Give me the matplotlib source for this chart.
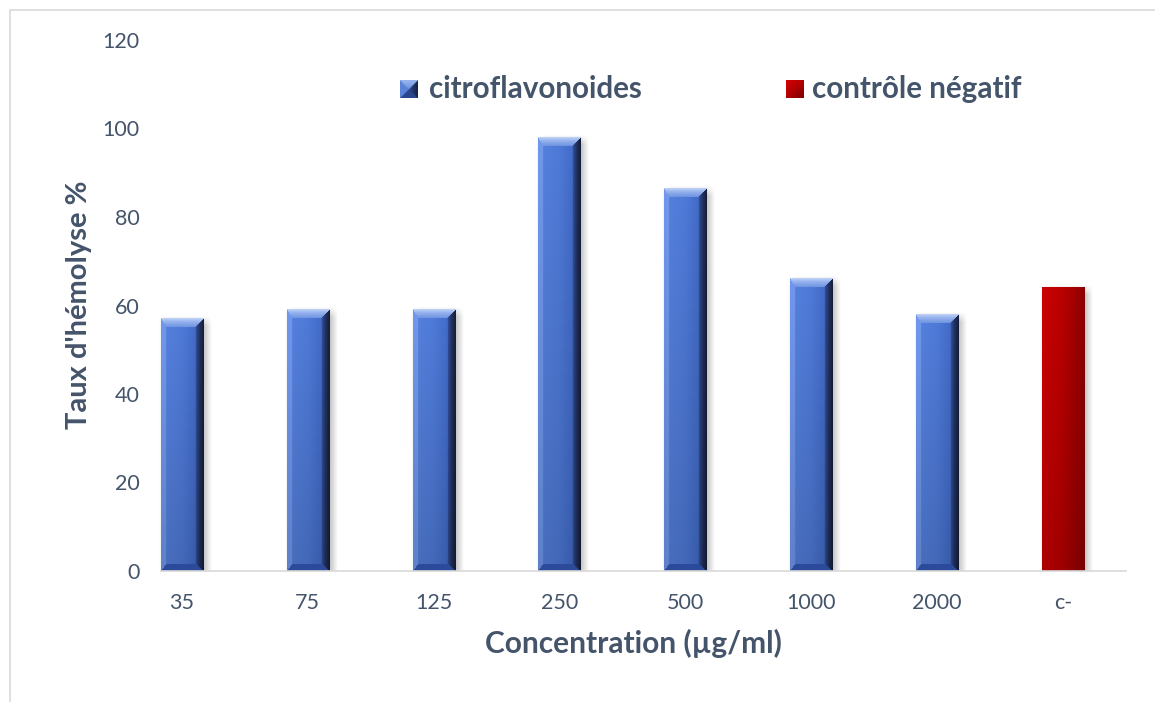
import numpy as np
import matplotlib
matplotlib.use("Agg")
import matplotlib.pyplot as plt
from matplotlib.patches import Rectangle
from matplotlib.colors import to_rgb

# ---- data ----
categories = ["35", "75", "125", "250", "500", "1000", "2000", "c-"]
citro_values = [57, 59, 59, 98, 86.5, 66, 58]
control_value = 64
series_names = ["citroflavonoides", "contrôle négatif"]
y_ticks = [0, 20, 40, 60, 80, 100, 120]

TEXT = "#44546A"
FONT = "Lato"

W_PX, H_PX = 1155, 702
DPI = 100
fig = plt.figure(figsize=(W_PX / DPI, H_PX / DPI), dpi=DPI)
fig.patch.set_facecolor("white")

# chart-area border (top and left edges visible)
fig.patches.append(Rectangle((10 / W_PX, -0.1), 1.2, (H_PX - 10) / H_PX + 0.1,
                             transform=fig.transFigure, fill=False,
                             edgecolor="#d9d9d9", linewidth=1.2))

ax_left, ax_right, ax_bot, ax_top = 119, 1126, 571, 40
ax = fig.add_axes([ax_left / W_PX, (H_PX - ax_bot) / H_PX,
                   (ax_right - ax_left) / W_PX, (ax_bot - ax_top) / H_PX])
ax.set_xlim(-0.5, len(categories) - 0.5)
ax.set_ylim(0, 120)

x = np.arange(len(categories))
bar_w = 0.335
bars_c = ax.bar(x[:len(citro_values)], citro_values, width=bar_w,
                color="#4a72c8", zorder=2)
bars_n = ax.bar(x[-1:], [control_value], width=bar_w, color="#b00000", zorder=2)


def lerp_profile(t, stops):
    pos = np.array([s[0] for s in stops])
    cols = np.array([to_rgb(s[1]) for s in stops])
    return np.stack([np.interp(t, pos, cols[:, k]) for k in range(3)], axis=-1)


def bevel_image(Wp, Hp, face_stops, top_stops, left_col, right_stops,
                bottom_col, bt, bs_l, bs_r, bb, vshade=(1.06, 0.9)):
    j = np.arange(Wp) + 0.5
    i = np.arange(Hp) + 0.5
    J, I = np.meshgrid(j, i)
    u = J / Wp
    v = I / Hp
    img = lerp_profile(u, face_stops)
    vs = vshade[0] + (vshade[1] - vshade[0]) * v
    img = np.clip(img * vs[..., None], 0, 1)
    dl, dr, dt, db = J / bs_l, (Wp - J) / bs_r, I / bt, (Hp - I) / bb
    dmin = np.minimum.reduce([dl, dr, dt, db])
    top = (dt == dmin) & (dt < 1)
    left = (dl == dmin) & (dl < 1) & ~top
    right = (dr == dmin) & (dr < 1) & ~top
    bottom = (db == dmin) & (db < 1) & ~left & ~right & ~top
    timg = lerp_profile(np.clip(dt, 0, 1), top_stops)
    img[top] = timg[top]
    img[left] = np.array(to_rgb(left_col)) * vs[left][:, None]
    rimg = lerp_profile(np.clip(dr, 0, 1), right_stops)
    img[right] = np.clip(rimg[right] * vs[right][:, None], 0, 1)
    img[bottom] = to_rgb(bottom_col)
    return img


def shadow_image(Wp, Hp, margin, off, soft, strength):
    j = np.arange(Wp + 2 * margin) + 0.5 - margin
    i = np.arange(Hp + 2 * margin) + 0.5 - margin

    def ramp(t, a, b):
        lo = np.clip((t - (a - soft)) / (2 * soft), 0, 1)
        hi = np.clip(((b + soft) - t) / (2 * soft), 0, 1)
        return lo * hi

    fx = ramp(j, off[0], Wp + off[0])
    fy = ramp(i, off[1], Hp + off[1])
    a = np.outer(fy, fx) * strength
    img = np.zeros(a.shape + (4,))
    img[..., :3] = 0.35
    img[..., 3] = a
    return img


def pix_box(patch):
    x0, y0 = patch.get_x(), patch.get_y()
    x1, y1 = x0 + patch.get_width(), y0 + patch.get_height()
    p0 = ax.transData.transform((x0, y0))
    p1 = ax.transData.transform((x1, y1))
    return x0, x1, y0, y1, p0, p1


inv = ax.transData.inverted()


def draw_fancy(patch, kind):
    x0, x1, y0, y1, p0, p1 = pix_box(patch)
    Wp = max(int(round(p1[0] - p0[0])), 2)
    Hp = max(int(round(p1[1] - p0[1])), 2)
    # soft drop shadow
    m = 12
    sh = shadow_image(Wp, Hp, m, (3, 3), 5, 0.45)
    q0 = inv.transform((p0[0] - m, p0[1] - m))
    q1 = inv.transform((p1[0] + m, p1[1] + m))
    ax.imshow(sh, extent=(q0[0], q1[0], q0[1], q1[1]), aspect="auto",
              zorder=1.5, interpolation="bilinear")
    if kind == "blue":
        img = bevel_image(
            Wp, Hp,
            face_stops=[(0, "#5a80d4"), (0.12, "#5079d0"), (0.5, "#4a73cc"),
                        (0.8, "#3f66bd"), (1.0, "#2c4a95")],
            top_stops=[(0, "#c2d4f6"), (0.4, "#97b3ee"), (1.0, "#6f93e0")],
            left_col="#6a8fe0",
            right_stops=[(0, "#141c33"), (0.5, "#1f2d57"), (1.0, "#2f4c94")],
            bottom_col="#2c4a9a",
            bt=9, bs_l=5, bs_r=8, bb=7)
    else:
        img = bevel_image(
            Wp, Hp,
            face_stops=[(0, "#cc0000"), (0.5, "#b80000"), (1.0, "#8c0000")],
            top_stops=[(0, "#cc0000"), (1.0, "#cc0000")],
            left_col="#cc0000",
            right_stops=[(0, "#8c0000"), (1.0, "#8c0000")],
            bottom_col="#7a0000",
            bt=0.01, bs_l=0.01, bs_r=0.01, bb=0.01, vshade=(1.0, 0.85))
    ax.imshow(img, extent=(x0, x1, y0, y1), aspect="auto", zorder=3,
              interpolation="bilinear")


for b in bars_c:
    draw_fancy(b, "blue")
for b in bars_n:
    draw_fancy(b, "red")

ax.set_xlim(-0.5, len(categories) - 0.5)
ax.set_ylim(0, 120)

# axes styling
for s in ["top", "right", "left"]:
    ax.spines[s].set_visible(False)
ax.spines["bottom"].set_color("#d9d9d9")
ax.spines["bottom"].set_linewidth(1.2)
ax.spines["bottom"].set_bounds(-0.17, len(categories) - 0.5)
ax.spines["bottom"].set_zorder(4)

ax.set_xticks(x)
ax.set_xticklabels(categories)
ax.set_yticks(y_ticks)
ax.set_yticklabels([str(t) for t in y_ticks])
ax.tick_params(axis="both", length=0, labelsize=15.5, labelcolor=TEXT)
ax.tick_params(axis="y", pad=-15)
ax.tick_params(axis="x", pad=16)
for lab in ax.get_xticklabels() + ax.get_yticklabels():
    lab.set_fontfamily(FONT)

ax.set_xlabel("Concentration (µg/ml)", fontsize=21.5, fontweight="bold",
              color=TEXT, family=FONT, labelpad=14)
ax.xaxis.set_label_coords((633 - ax_left) / (ax_right - ax_left),
                          -(643 - ax_bot) / (ax_bot - ax_top))
ax.xaxis.label.set_va("center")
fig.text(79 / W_PX, (H_PX - 305) / H_PX, "Taux d'hémolyse %", rotation=90,
         ha="center", va="center", fontsize=21, fontweight="bold",
         color=TEXT, family=FONT)

# legend, drawn at the top of the plot
def legend_marker(px, py, size, kind):
    max_ = fig.add_axes([px / W_PX, (H_PX - py - size) / H_PX,
                         size / W_PX, size / H_PX])
    max_.set_axis_off()
    n = 36
    if kind == "blue":
        img = bevel_image(
            n, n,
            face_stops=[(0, "#4a73cc"), (1, "#3a60b5")],
            top_stops=[(0, "#9ab6ee"), (1.0, "#6f93e0")],
            left_col="#5a82d6",
            right_stops=[(0, "#16213e"), (1.0, "#2c4a90")],
            bottom_col="#2b468f",
            bt=18, bs_l=18, bs_r=18, bb=18, vshade=(1.0, 1.0))
    else:
        J, I = np.meshgrid(np.linspace(0, 1, n), np.linspace(0, 1, n))
        img = lerp_profile((J + I) / 2, [(0, "#d40000"), (0.5, "#b00000"),
                                         (1.0, "#7e0000")])
    max_.imshow(img, extent=(0, 1, 0, 1), aspect="auto", interpolation="bilinear")
    max_.set_xlim(0, 1)
    max_.set_ylim(0, 1)


legend_marker(400, 80, 18, "blue")
fig.text(429 / W_PX, (H_PX - 89) / H_PX, series_names[0], ha="left",
         va="center", fontsize=21.3, fontweight="bold", color=TEXT, family=FONT)
legend_marker(786, 80, 18, "red")
fig.text(812 / W_PX, (H_PX - 89) / H_PX, series_names[1], ha="left",
         va="center", fontsize=21.3, fontweight="bold", color=TEXT, family=FONT)

fig.savefig("out.png", dpi=DPI)
